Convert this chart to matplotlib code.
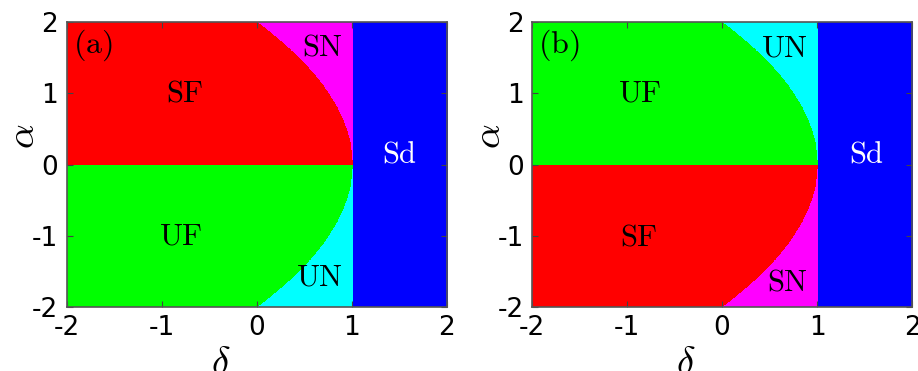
import numpy as np
import matplotlib.pyplot as plt
from matplotlib.colors import ListedColormap

plt.rcParams['mathtext.fontset'] = 'cm'
plt.rcParams['axes.unicode_minus'] = False

# parameter ranges
delta_lim = [-2, 2]
alpha_lim = [-2, 2]
ticks = [-2, -1, 0, 1, 2]

# region codes -> colours
region_names = ['SF', 'UF', 'SN', 'UN', 'Sd']
region_colors = ['#ff0000', '#00ff00', '#ff00ff', '#00ffff', '#0000ff']

# labels in each panel (text, delta, alpha)
labels_a = [('SF', -0.75, 1.0), ('UF', -0.8, -1.0), ('SN', 0.69, 1.65),
            ('UN', 0.66, -1.58), ('Sd', 1.5, 0.15)]
labels_b = [('UF', -0.86, 1.0), ('SF', -0.88, -1.02), ('UN', 0.66, 1.63),
            ('SN', 0.69, -1.65), ('Sd', 1.52, 0.15)]
panel_tags = ['(a)', '(b)']
trace_sign = [-1, 1]   # trace = sign*alpha, det = 1 - delta


def classify(d, a, s):
    tr = s * a
    det = 1 - d
    disc = tr**2 - 4 * det
    out = np.empty(d.shape, dtype=int)
    stable = tr < 0
    focus = disc < 0
    out[focus & stable] = 0
    out[focus & ~stable] = 1
    out[~focus & stable] = 2
    out[~focus & ~stable] = 3
    out[det < 0] = 4
    return out


d = np.linspace(delta_lim[0], delta_lim[1], 1200)
a = np.linspace(alpha_lim[0], alpha_lim[1], 1200)
D, A = np.meshgrid(d, a)

cmap = ListedColormap(region_colors)

fig = plt.figure(figsize=(9.18, 3.71), dpi=100)
lefts = [0.0725, 0.5795]
for i in range(2):
    ax = fig.add_axes([lefts[i], 0.1725, 0.414, 0.768])
    reg = classify(D, A, trace_sign[i])
    ax.imshow(reg, origin='lower', extent=delta_lim + alpha_lim, cmap=cmap,
              vmin=-0.5, vmax=4.5, aspect='auto', interpolation='nearest')
    labs = labels_a if i == 0 else labels_b
    for t, x, y in labs:
        col = 'white' if t == 'Sd' else 'black'
        ax.text(x, y, r'$\mathrm{%s}$' % t, color=col, fontsize=22,
                ha='center', va='center')
    ax.text(-1.72, 1.68, r'$\mathrm{%s}$' % panel_tags[i], fontsize=23,
            ha='center', va='center')
    ax.set_xlim(delta_lim)
    ax.set_ylim(alpha_lim)
    ax.set_xticks(ticks)
    ax.set_yticks(ticks)
    ax.tick_params(direction='in', top=True, right=True, labelsize=19,
                   length=4, color='#444444', pad=6)
    for sp in ax.spines.values():
        sp.set_color('#555555')
        sp.set_linewidth(1.2)
    ax.set_xlabel(r'$\delta$', fontsize=28)
    ax.set_ylabel(r'$\alpha$', fontsize=28)
    ax.xaxis.set_label_coords(0.405, -0.13)
    ax.yaxis.set_label_coords(-0.064, 0.6)

fig.savefig('out.png', dpi=100)
